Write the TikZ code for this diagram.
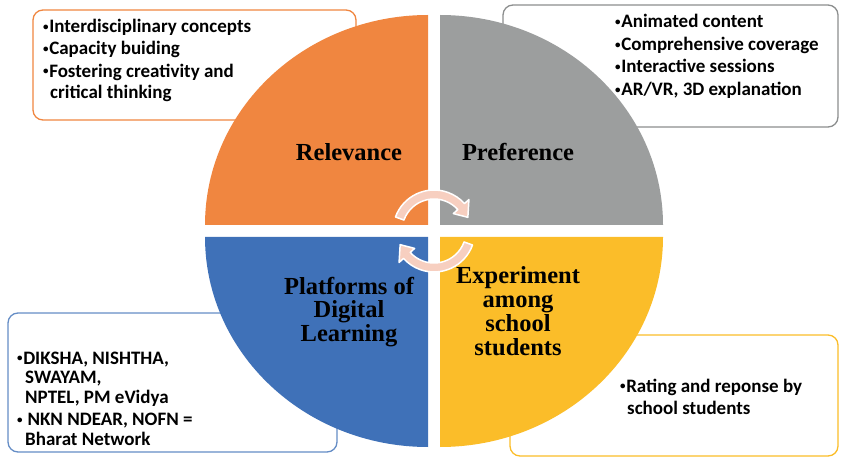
\documentclass[tikz,border=0pt]{standalone}
\usepackage{fontspec}
\setmainfont{Liberation Serif}
\newfontfamily\boxfont{Carlito}
\definecolor{relC}{HTML}{F08640}
\definecolor{prefC}{HTML}{9C9E9E}
\definecolor{platC}{HTML}{3F71B8}
\definecolor{expC}{HTML}{FBBD29}
\definecolor{cycleC}{HTML}{F7CFC0}
% small list bullet
\newcommand\bul{\raisebox{2.4pt}{\fontsize{11}{11}\selectfont•}\hspace{0.6pt}}
\tikzset{
  infobox/.style={draw=#1, line width=1.3pt, rounded corners=10pt, fill=white,
    inner sep=0pt},
  infotext/.style={anchor=west, align=left, inner sep=0pt,
    font=\boxfont\bfseries\fontsize{19}{21}\selectfont},
  quadlabel/.style={align=center, inner sep=0pt,
    font=\bfseries\fontsize{24.5}{24}\selectfont},
  cyclearrow/.style={fill=cycleC, draw=white, line width=1.5pt, line join=round}
}
\begin{document}
\begin{tikzpicture}[x=1pt,y=1pt]
\useasboundingbox (0,0) rectangle (845,458);

% outline boxes behind the disc
\node[infobox=relC, minimum width=323pt, minimum height=110pt] (relbox) at (194.5,393) {};
\node[infobox=prefC!90!black, minimum width=335pt, minimum height=122pt] (prefbox) at (670.5,392) {};
\node[infobox=platC!80!white, minimum width=329pt, minimum height=139pt] (platbox) at (172.5,75.5) {};
\node[infobox=expC, minimum width=328pt, minimum height=121pt] (expbox) at (674,62.5) {};

% the four quarters of the disc
\fill[relC]  (428,233) -- (205,233) arc[start angle=180, end angle=90, x radius=223, y radius=210] -- cycle;
\fill[prefC] (440,233) -- (663,233) arc[start angle=0, end angle=90, x radius=223, y radius=210] -- cycle;
\fill[platC] (428,221) -- (205,221) arc[start angle=180, end angle=270, x radius=223, y radius=210] -- cycle;
\fill[expC]  (440,221) -- (663,221) arc[start angle=0, end angle=-90, x radius=223, y radius=210] -- cycle;

% circular arrows in the middle
\begin{scope}[shift={(434,227)}]
  \draw[cyclearrow] (160:41) arc[start angle=160, end angle=42, radius=41]
    -- (42:47) -- (22:36.5) -- (42:26) -- (42:32)
    arc[start angle=42, end angle=160, radius=32] -- cycle;
  \draw[cyclearrow] (-20:41) arc[start angle=-20, end angle=-138, radius=41]
    -- (-138:47) -- (-158:36.5) -- (-138:26) -- (-138:32)
    arc[start angle=-138, end angle=-20, radius=32] -- cycle;
\end{scope}

% quarter titles
\node[quadlabel] (rel)  at (349,306) {Relevance};
\node[quadlabel] (pref) at (518,306) {Preference};
\node[quadlabel, font=\bfseries\fontsize{24.5}{23.5}\selectfont] (plat) at (349,146) {Platforms of\\Digital\\Learning};
\node[quadlabel] (exp)  at (518,147) {Experiment\\among\\school\\students};

% box contents
\node[infotext] (reltext) at (43,397.5) {\bul Interdisciplinary concepts\\[1pt]
  \bul Capacity buiding\\[1.5pt]
  \bul Fostering creativity and\\
  \hspace*{7pt}critical thinking};
\node[infotext, font=\boxfont\bfseries\fontsize{19}{22.5}\selectfont] (preftext) at (615,401.5) {\bul Animated content\\
  \bul Comprehensive coverage\\
  \bul Interactive sessions\\
  \bul AR/VR, 3D explanation};
\node[infotext, font=\boxfont\bfseries\fontsize{19}{19.5}\selectfont] (plattext) at (17,59.5) {\bul DIKSHA, NISHTHA,\\
  \hspace*{8pt}SWAYAM,\\
  \hspace*{8pt}NPTEL, PM eVidya\\[3pt]
  \bul\ NKN NDEAR, NOFN =\\
  \hspace*{8pt}Bharat Network};
\node[infotext, font=\boxfont\bfseries\fontsize{19}{22}\selectfont] (exptext) at (620,61.5) {\bul Rating and reponse by\\
  \hspace*{7pt}school students};
\end{tikzpicture}
\end{document}
